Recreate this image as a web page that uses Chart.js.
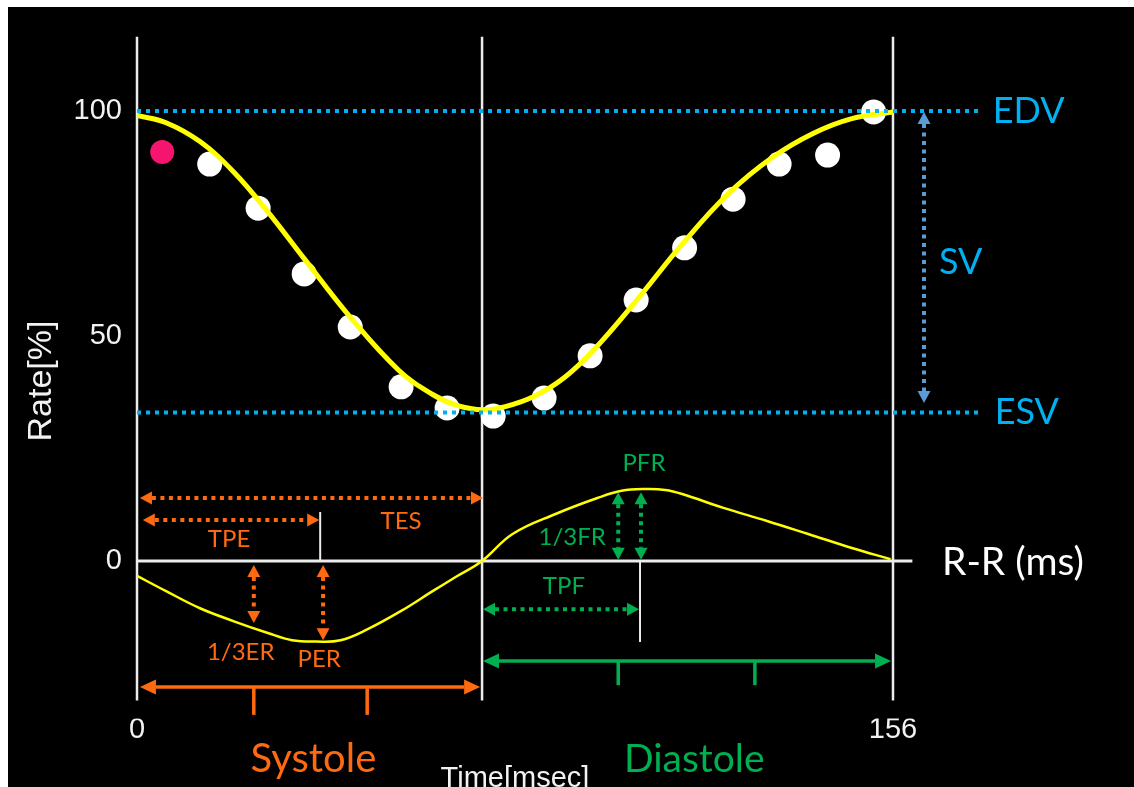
<!DOCTYPE html>
<html>
<head>
<meta charset="utf-8">
<script src="https://cdn.jsdelivr.net/npm/chart.js@4.4.1/dist/chart.umd.min.js"></script>
<style>
  html, body { margin: 0; padding: 0; background: #fff; }
  #wrap { position: relative; width: 1134px; height: 787px; }
</style>
</head>
<body>
<div id="wrap"><canvas id="rrChart"></canvas></div>
<script>
// fitted volume curve, Rate[%] vs time (ms)
const fitTime = [0, 6, 13, 20, 27, 34.5, 44, 54, 61, 66, 71.5, 76, 82, 88, 94, 103, 112.5, 122, 131, 139.5, 147.5, 156];
const fitRate = [99, 97.4, 93.2, 86.4, 77.6, 67.2, 54.2, 42.4, 37, 34.6, 33.6, 34.3, 36.6, 40.6, 46.6, 57.8, 70.4, 81.6, 89.6, 95, 98.3, 99.8];

// first derivative (ejection / filling rate), same axis
const dvTime = [0, 6, 13, 20, 27, 32, 37, 42, 47.5, 54.5, 61, 66, 71.2, 77.5, 86.5, 95, 100, 105, 109, 112.5, 121, 130, 138.5, 147.5, 155.5];
const dvRate = [-3.3, -6.7, -10.5, -13.4, -16, -17.6, -17.9, -17.6, -15.2, -11.1, -6.7, -3.4, 0, 6, 10.5, 14, 15.6, 16, 15.8, 14.9, 11.8, 8.9, 6, 2.9, 0.4];

// measured frames
const frameTime = [15, 25, 34.5, 44, 54.5, 64, 73.5, 84, 93.5, 103, 113, 123, 132.5, 142.5, 152];
const frameRate = [88.2, 78.4, 63.8, 52, 38.7, 34, 32.2, 36.2, 45.6, 58, 69.6, 80.4, 88.2, 90.2, 99.8];
const firstFrameTime = [5.2];
const firstFrameRate = [90.9];

const xTicks = [0, 156];
const yTicks = [0, 50, 100];
const edv = 100;
const esv = 33;
const esTime = 71.2;

const ORANGE = "#FF6A10";
const GREEN = "#00B050";
const BLUE = "#00B0F0";
const STEEL = "#5B9BD5";
const LABEL_FONT = "Lato, 'Open Sans', sans-serif";

const toPoints = (xs, ys) => xs.map((x, i) => ({ x: x, y: ys[i] }));

// white frame lines: [x1, y1, x2, y2, width]
const frameLines = [
    [0, 116.5, 0, -31, 2.5],
    [esTime, 116.5, esTime, -31, 2.5],
    [156, 116.5, 156, -31, 2.5],
    [0, 0, 160, 0, 3.2],
    [37.8, 10.9, 37.8, 0, 2],
    [103.8, 0, 103.8, -18, 2],
];

// double arrows
const arrows = [
    { a: [0.6, 14], b: [71.4, 14], color: ORANGE, dash: true },        // TES
    { a: [1.2, 9.1], b: [37.6, 9.1], color: ORANGE, dash: true },      // TPE
    { a: [24.1, -0.9], b: [24.1, -13.8], color: ORANGE, dash: true },  // 1/3ER
    { a: [38.4, -0.9], b: [38.4, -17.6], color: ORANGE, dash: true },  // PER
    { a: [0.6, -28], b: [70.8, -28], color: ORANGE, dash: false },     // systole
    { a: [71.4, -22.2], b: [155.6, -22.2], color: GREEN, dash: false },// diastole
    { a: [71.4, -10.7], b: [103.6, -10.7], color: GREEN, dash: true }, // TPF
    { a: [99.3, 15.3], b: [99.3, 0.3], color: GREEN, dash: true },     // 1/3FR
    { a: [104, 15.3], b: [104, 0.3], color: GREEN, dash: true },       // PFR
    { a: [162.4, 99.8], b: [162.4, 35.1], color: STEEL, dash: true },  // SV
];

// small tick marks on the systole / diastole arrows
const phaseTicks = [
    [24.1, -28, 24.1, -34.2, ORANGE],
    [47.5, -28, 47.5, -34.2, ORANGE],
    [99.3, -22.2, 99.3, -27.6, GREEN],
    [127.5, -22.2, 127.5, -27.6, GREEN],
];

const labels = [
    { t: "EDV", x: 176.6, y: 100, c: BLUE, s: 36, al: "left" },
    { t: "ESV", x: 177, y: 33, c: BLUE, s: 36, al: "left" },
    { t: "SV", x: 165.5, y: 66.4, c: BLUE, s: 36, al: "left" },
    { t: "R-R (ms)", x: 166.1, y: -0.3, c: "#ffffff", s: 39, al: "left" },
    { t: "TPE", x: 19, y: 4.9, c: ORANGE, s: 24, al: "center" },
    { t: "TES", x: 54.5, y: 8.8, c: ORANGE, s: 24, al: "center" },
    { t: "1/3ER", x: 21.4, y: -20.2, c: ORANGE, s: 24, al: "center" },
    { t: "PER", x: 37.6, y: -21.9, c: ORANGE, s: 24, al: "center" },
    { t: "PFR", x: 104.6, y: 21.7, c: GREEN, s: 24, al: "center" },
    { t: "1/3FR", x: 89.8, y: 5.2, c: GREEN, s: 24, al: "center" },
    { t: "TPF", x: 88.1, y: -5.7, c: GREEN, s: 24, al: "center" },
    { t: "Systole", x: 36.4, y: -44, c: ORANGE, s: 40, al: "center" },
    { t: "Diastole", x: 115, y: -44.2, c: GREEN, s: 39, al: "center" },
];

function drawArrow(ctx, x1, y1, x2, y2, color, dashed) {
    const ang = Math.atan2(y2 - y1, x2 - x1);
    const len = Math.hypot(x2 - x1, y2 - y1);
    const head = dashed ? 12 : 16;
    const half = dashed ? 6.5 : 7.5;
    ctx.save();
    ctx.translate(x1, y1);
    ctx.rotate(ang);
    ctx.strokeStyle = color;
    ctx.fillStyle = color;
    ctx.lineWidth = dashed ? 4 : 3.5;
    ctx.setLineDash(dashed ? [4, 4.5] : []);
    ctx.beginPath();
    ctx.moveTo(head, 0);
    ctx.lineTo(len - head, 0);
    ctx.stroke();
    ctx.setLineDash([]);
    ctx.beginPath();
    ctx.moveTo(0, 0);
    ctx.lineTo(head, -half);
    ctx.lineTo(head, half);
    ctx.closePath();
    ctx.fill();
    ctx.beginPath();
    ctx.moveTo(len, 0);
    ctx.lineTo(len - head, -half);
    ctx.lineTo(len - head, half);
    ctx.closePath();
    ctx.fill();
    ctx.restore();
}

const diagramPlugin = {
    id: "diagram",
    beforeDraw(chart) {
        const { ctx, width, height } = chart;
        ctx.save();
        ctx.fillStyle = "#ffffff";
        ctx.fillRect(0, 0, width, height);
        ctx.fillStyle = "#000000";
        ctx.fillRect(8, 7, width - 8, height - 7);
        ctx.restore();
    },
    beforeDatasetsDraw(chart) {
        const { ctx } = chart;
        const { x, y } = chart.scales;
        ctx.save();
        ctx.strokeStyle = "#ececec";
        frameLines.forEach((l) => {
            ctx.lineWidth = l[4];
            ctx.beginPath();
            ctx.moveTo(x.getPixelForValue(l[0]), y.getPixelForValue(l[1]));
            ctx.lineTo(x.getPixelForValue(l[2]), y.getPixelForValue(l[3]));
            ctx.stroke();
        });
        ctx.restore();
    },
    afterDatasetsDraw(chart) {
        const { ctx } = chart;
        const { x, y } = chart.scales;
        ctx.save();
        // EDV / ESV dotted levels
        ctx.strokeStyle = BLUE;
        ctx.lineWidth = 4;
        ctx.setLineDash([4, 5]);
        [edv, esv].forEach((v) => {
            ctx.beginPath();
            ctx.moveTo(x.getPixelForValue(0), y.getPixelForValue(v));
            ctx.lineTo(x.getPixelForValue(174), y.getPixelForValue(v));
            ctx.stroke();
        });
        ctx.setLineDash([]);

        arrows.forEach((a) => {
            drawArrow(ctx,
                x.getPixelForValue(a.a[0]), y.getPixelForValue(a.a[1]),
                x.getPixelForValue(a.b[0]), y.getPixelForValue(a.b[1]),
                a.color, a.dash);
        });

        ctx.lineWidth = 3.5;
        phaseTicks.forEach((t) => {
            ctx.strokeStyle = t[4];
            ctx.beginPath();
            ctx.moveTo(x.getPixelForValue(t[0]), y.getPixelForValue(t[1]));
            ctx.lineTo(x.getPixelForValue(t[2]), y.getPixelForValue(t[3]));
            ctx.stroke();
        });

        ctx.textBaseline = "middle";
        labels.forEach((l) => {
            ctx.font = l.s + "px " + LABEL_FONT;
            ctx.fillStyle = l.c;
            ctx.textAlign = l.al;
            ctx.fillText(l.t, x.getPixelForValue(l.x), y.getPixelForValue(l.y));
        });
        ctx.restore();
    },
};

const ctx = document.getElementById("rrChart").getContext("2d");

new Chart(ctx, {
    type: "line",
    data: {
        datasets: [
            {
                label: "fit",
                data: toPoints(fitTime, fitRate),
                borderColor: "#FFFF00",
                borderWidth: 5,
                pointRadius: 0,
                tension: 0.4,
            },
            {
                label: "dV/dt",
                data: toPoints(dvTime, dvRate),
                borderColor: "#FFFF00",
                borderWidth: 2.5,
                pointRadius: 0,
                tension: 0.4,
            },
            {
                label: "frames",
                data: toPoints(frameTime, frameRate),
                showLine: false,
                pointRadius: 12.5,
                pointBackgroundColor: "#ffffff",
                pointBorderWidth: 0,
            },
            {
                label: "first frame",
                data: toPoints(firstFrameTime, firstFrameRate),
                showLine: false,
                pointRadius: 12,
                pointBackgroundColor: "#F5146E",
                pointBorderWidth: 0,
            },
        ],
    },
    options: {
        responsive: true,
        maintainAspectRatio: false,
        animation: false,
        events: [],
        layout: { padding: { top: 43.5, right: 241, bottom: 0, left: 0 } },
        plugins: {
            legend: { display: false },
            tooltip: { enabled: false },
        },
        scales: {
            x: {
                type: "linear",
                min: 0,
                max: 156,
                grid: { display: false, drawTicks: false },
                border: { display: false },
                afterBuildTicks: (s) => { s.ticks = xTicks.map((v) => ({ value: v })); },
                afterFit: (s) => { s.height = 68.5; },
                ticks: {
                    color: "#f2f2f2",
                    padding: 0,
                    autoSkip: false,
                    maxRotation: 0,
                    font: { family: "'Liberation Sans', Arial, sans-serif", size: 29, lineHeight: 0.8 },
                },
                title: {
                    display: true,
                    text: "Time[msec]",
                    color: "#f2f2f2",
                    padding: 0,
                    font: { family: "'Liberation Sans', Arial, sans-serif", size: 29, lineHeight: 0.55 },
                },
            },
            y: {
                min: -35,
                max: 115,
                grid: { display: false, drawTicks: false },
                border: { display: false },
                afterBuildTicks: (s) => { s.ticks = yTicks.map((v) => ({ value: v })); },
                afterFit: (s) => { s.width = 137; },
                ticks: {
                    color: "#f2f2f2",
                    padding: 15,
                    font: { family: "'Liberation Sans', Arial, sans-serif", size: 29 },
                },
                title: {
                    display: true,
                    text: "Rate[%]",
                    color: "#f2f2f2",
                    padding: { top: 21, bottom: 0 },
                    font: { family: "'Liberation Sans', Arial, sans-serif", size: 34 },
                },
            },
        },
    },
    plugins: [diagramPlugin],
});
</script>
</body>
</html>
